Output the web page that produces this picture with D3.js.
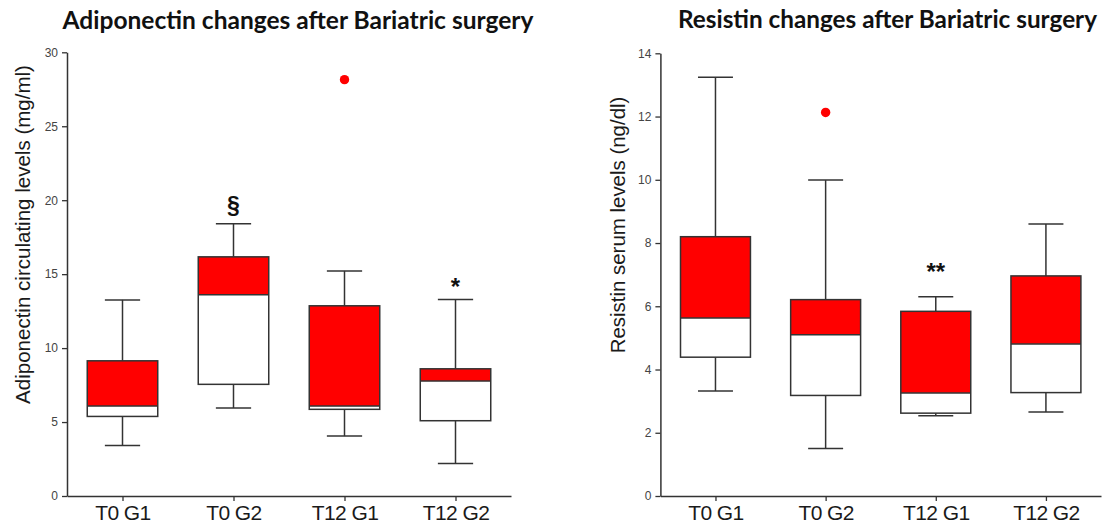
<!DOCTYPE html>
<html><head><meta charset="utf-8">
<script src="https://cdn.jsdelivr.net/npm/d3@7"></script>
<style>body{margin:0;background:#fff;} svg{display:block}</style>
</head><body>
<svg id="c" width="1104" height="524"></svg>
<script>
// ---- data ----
const categories = ["T0 G1", "T0 G2", "T12 G1", "T12 G2"];

const adipoTitle = "Adiponectin changes after Bariatric surgery";
const adipoYLabel = "Adiponectin circulating levels (mg/ml)";
const adipoTicks = [0, 5, 10, 15, 20, 25, 30];
const adipoLow    = [3.42, 5.95, 4.05, 2.20];
const adipoQ1     = [5.38, 7.55, 5.86, 5.09];
const adipoMedian = [6.08, 13.60, 6.08, 7.77];
const adipoQ3     = [9.14, 16.17, 12.86, 8.60];
const adipoHigh   = [13.26, 18.40, 15.22, 13.29];
const adipoOutliers = [[], [], [28.15], []];
const adipoMarks = [
  { category: "T0 G2", text: "§", value: 19.12 },
  { category: "T12 G2", text: "*", value: 13.6 }
];

const resTitle = "Resistin changes after Bariatric surgery";
const resYLabel = "Resistin serum levels (ng/dl)";
const resTicks = [0, 2, 4, 6, 8, 10, 12, 14];
const resLow    = [3.32, 1.50, 2.54, 2.66];
const resQ1     = [4.39, 3.18, 2.62, 3.27];
const resMedian = [5.63, 5.10, 3.26, 4.81];
const resQ3     = [8.20, 6.21, 5.84, 6.96];
const resHigh   = [13.24, 9.99, 6.30, 8.60];
const resOutliers = [[], [12.13], [], []];
const resMarks = [
  { category: "T12 G1", text: "**", value: 6.83 }
];

// ---- drawing ----
const svg = d3.select("#c");
const LINE = "#333";
const RED = "#ff0000";

function fitText(sel, target) {
  const fs = parseFloat(sel.attr("font-size"));
  const w = sel.node().getComputedTextLength();
  sel.attr("font-size", (fs * target / w).toFixed(2));
}

function drawPanel(cfg) {
  const g = svg.append("g");
  const x = d3.scalePoint().domain(categories).range([cfg.x0, cfg.x1]).padding(0.5);
  const y = d3.scaleLinear().domain([0, d3.max(cfg.ticks)]).range([cfg.yBottom, cfg.yTop]);
  const bw = x.step() * 0.635;
  const cw = bw / 2;

  // axes
  const ya = g.append("g").attr("transform", `translate(${cfg.x0},0)`)
    .call(d3.axisLeft(y).tickValues(cfg.ticks).tickSize(5).tickSizeOuter(0).tickPadding(4));
  const xa = g.append("g").attr("transform", `translate(0,${cfg.yBottom})`)
    .call(d3.axisBottom(x).tickSize(5).tickSizeOuter(0).tickPadding(4));
  [ya, xa].forEach(a => {
    a.select(".domain").attr("stroke", LINE).attr("stroke-width", 1.5);
    a.selectAll(".tick line").attr("stroke", LINE).attr("stroke-width", 1.3);
  });
  ya.selectAll(".tick text").attr("font-family", "Liberation Sans, Arial, sans-serif")
    .attr("font-size", 12).attr("fill", "#444");
  xa.selectAll(".tick text").attr("font-family", "Liberation Sans, Arial, sans-serif")
    .attr("font-size", 21).attr("fill", "#1a1a1a").attr("letter-spacing", "-0.6px");

  const d = categories.map((c, i) => ({
    c, low: cfg.low[i], q1: cfg.q1[i], med: cfg.median[i], q3: cfg.q3[i], high: cfg.high[i], out: cfg.outliers[i]
  }));

  const bx = g.selectAll("g.box").data(d).join("g").attr("class", "box");
  // whiskers
  bx.append("line").attr("x1", v => x(v.c)).attr("x2", v => x(v.c))
    .attr("y1", v => y(v.q3)).attr("y2", v => y(v.high));
  bx.append("line").attr("x1", v => x(v.c)).attr("x2", v => x(v.c))
    .attr("y1", v => y(v.q1)).attr("y2", v => y(v.low));
  bx.append("line").attr("x1", v => x(v.c) - cw / 2).attr("x2", v => x(v.c) + cw / 2)
    .attr("y1", v => y(v.high)).attr("y2", v => y(v.high));
  bx.append("line").attr("x1", v => x(v.c) - cw / 2).attr("x2", v => x(v.c) + cw / 2)
    .attr("y1", v => y(v.low)).attr("y2", v => y(v.low));
  bx.selectAll("line").attr("stroke", LINE).attr("stroke-width", 1.5);
  // lower half white, upper half red
  bx.append("rect").attr("x", v => x(v.c) - bw / 2).attr("width", bw)
    .attr("y", v => y(v.med)).attr("height", v => y(v.q1) - y(v.med)).attr("fill", "#fff");
  bx.append("rect").attr("x", v => x(v.c) - bw / 2).attr("width", bw)
    .attr("y", v => y(v.q3)).attr("height", v => y(v.med) - y(v.q3)).attr("fill", RED);
  bx.append("rect").attr("x", v => x(v.c) - bw / 2).attr("width", bw)
    .attr("y", v => y(v.q3)).attr("height", v => y(v.q1) - y(v.q3))
    .attr("fill", "none").attr("stroke", LINE).attr("stroke-width", 1.5);
  bx.append("line").attr("x1", v => x(v.c) - bw / 2).attr("x2", v => x(v.c) + bw / 2)
    .attr("y1", v => y(v.med)).attr("y2", v => y(v.med)).attr("stroke", LINE).attr("stroke-width", 1.5);
  // outliers
  bx.selectAll("circle").data(v => v.out.map(o => ({ c: v.c, o }))).join("circle")
    .attr("cx", p => x(p.c)).attr("cy", p => y(p.o)).attr("r", 4.7).attr("fill", RED);

  // significance marks
  g.selectAll("text.mark").data(cfg.marks).join("text").attr("class", "mark")
    .attr("x", m => x(m.category)).attr("y", m => y(m.value))
    .attr("text-anchor", "middle").attr("font-family", "Liberation Sans, Arial, sans-serif")
    .attr("font-weight", "bold").attr("font-size", m => m.text === "§" ? 23 : 24)
    .attr("fill", "#111").text(m => m.text);

  // title
  const t = g.append("text").attr("x", cfg.titleX).attr("y", cfg.titleY)
    .attr("text-anchor", "middle").attr("font-family", "Lato, 'Open Sans', sans-serif")
    .attr("font-weight", "bold").attr("font-size", 21).attr("fill", "#111").text(cfg.title);
  fitText(t, cfg.titleW);

  // y label
  const yl = g.append("text").attr("transform", `translate(${cfg.ylX},${cfg.ylY}) rotate(-90)`)
    .attr("text-anchor", "middle").attr("dominant-baseline", "central")
    .attr("font-family", "Liberation Sans, Arial, sans-serif")
    .attr("font-size", 19).attr("fill", "#1a1a1a").text(cfg.ylabel);
  fitText(yl, cfg.ylW);
}

drawPanel({
  x0: 67, x1: 511, yTop: 52.3, yBottom: 496, ticks: adipoTicks,
  low: adipoLow, q1: adipoQ1, median: adipoMedian, q3: adipoQ3, high: adipoHigh,
  outliers: adipoOutliers, marks: adipoMarks,
  title: adipoTitle, titleX: 298, titleY: 29, titleW: 471,
  ylabel: adipoYLabel, ylX: 22, ylY: 234.5, ylW: 339
});
drawPanel({
  x0: 660.4, x1: 1101, yTop: 53.3, yBottom: 496, ticks: resTicks,
  low: resLow, q1: resQ1, median: resMedian, q3: resQ3, high: resHigh,
  outliers: resOutliers, marks: resMarks,
  title: resTitle, titleX: 887.5, titleY: 28, titleW: 419,
  ylabel: resYLabel, ylX: 617, ylY: 225, ylW: 257
});
</script>
</body></html>
